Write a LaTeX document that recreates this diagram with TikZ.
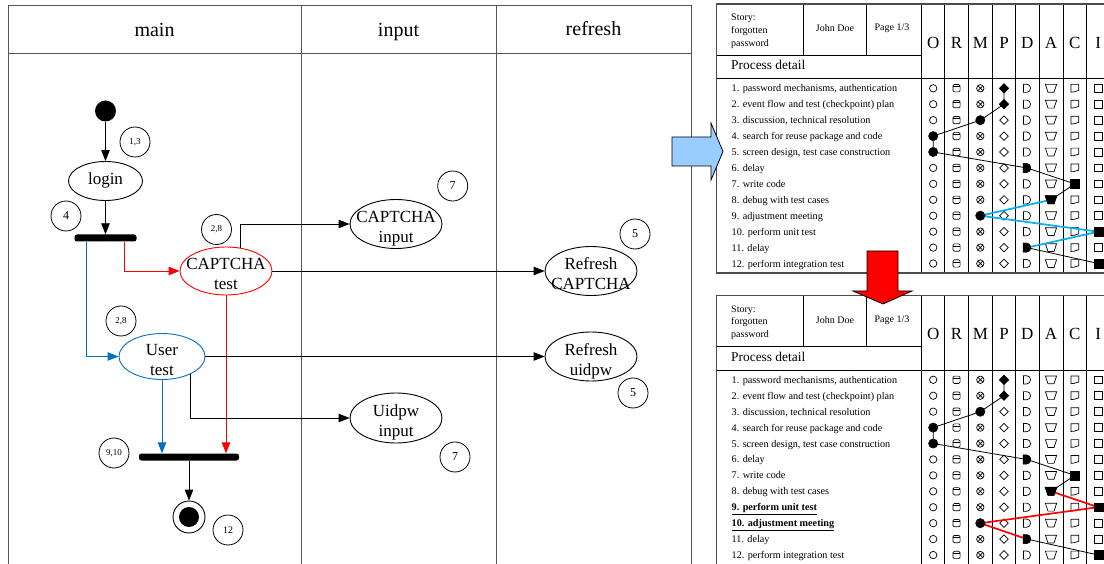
\documentclass[tikz,border=0pt]{standalone}
\usepackage{fontspec}
\setmainfont{Liberation Serif}
\usetikzlibrary{shapes.geometric,arrows.meta,calc}

\definecolor{umlblue}{HTML}{0070C0}
\definecolor{pathcyan}{HTML}{00B0F0}
\definecolor{lanegray}{HTML}{555555}
\definecolor{arrowblue}{HTML}{99CCFF}

% process chart symbols, drawn around the origin
\newcommand\symO{\draw (0,0) circle[radius=3.7];}
\newcommand\symR{\draw[rounded corners=1.3] (-3.6,3.6) -- (-3.6,-3.7) -- (3.6,-3.7) -- (3.6,3.6) -- cycle; \draw (-3.6,-1.5) -- (3.6,-1.5);}
\newcommand\symM{\draw (0,0) circle[radius=3.7]; \draw (-2.6,-2.6) -- (2.6,2.6) (-2.6,2.6) -- (2.6,-2.6);}
\newcommand\symP{\draw (0,-4.3) -- (4.3,0) -- (0,4.3) -- (-4.3,0) -- cycle;}
\newcommand\symD{\draw (-3.5,-4.1) -- (-0.2,-4.1) .. controls (4.7,-4.1) and (4.7,4.1) .. (-0.2,4.1) -- (-3.5,4.1) -- cycle;}
\newcommand\symA{\draw (-5.6,-3.9) -- (5.6,-3.9) -- (3,3.9) -- (-3,3.9) -- cycle;}
\newcommand\symC{\draw (-3.9,-3.9) -- (3.9,-3.9) -- (3.9,2.2) .. controls (2.2,1.8) and (1.6,3.9) .. (-3.9,3.9) -- cycle;}
\newcommand\symI{\draw (-3.9,-3.9) rectangle (3.9,3.9);}
% filled variants marking the chosen step
\newcommand\fillP{\filldraw (0,-4.7) -- (4.7,0) -- (0,4.7) -- (-4.7,0) -- cycle;}
\newcommand\fillO{\filldraw (0,0) circle[radius=4.7];}
\newcommand\fillD{\filldraw (-4,-4.6) -- (-0.2,-4.6) .. controls (5.1,-4.6) and (5.1,4.6) .. (-0.2,4.6) -- (-4,4.6) -- cycle;}
\newcommand\fillA{\filldraw (-6.1,-4.2) -- (6.1,-4.2) -- (3,4.2) -- (-3,4.2) -- cycle;}
\newcommand\fillS{\filldraw (-4.4,-4.4) rectangle (4.4,4.4);}
\newcommand\putsym[3]{\begin{scope}[shift={(#1,#2)}]#3\end{scope}}

% one process detail sheet; #1 vertical offset, #2 name prefix, #3/#4 texts of rows 9 and 10
\newcommand\proctable[4]{%
\begin{scope}[shift={(0,#1)}]
  \draw[tabline] (716.7,55) -- (921.7,55);
  \draw[tabline] (716.7,78.5) -- (1115,78.5);
  \draw[tabline] (803,4) -- (803,55) (866.3,4) -- (866.3,55);
  \foreach \x in {921.7,944.7,968.3,992.3,1015.7,1039,1063,1086.7}
    \draw[tabline] (\x,4) -- (\x,273);
  \draw[tabframe] (716.7,4) rectangle (1115,273);
  \node[smalltxt, anchor=north west, align=left, text height=32.4pt, text depth=2pt] (#2story) at (731,13.5) {Story:\\forgotten\\password};
  \node[smalltxt, anchor=base] (#2author) at (835,32) {John Doe};
  \node[smalltxt, anchor=base] (#2page) at (892,31) {Page 1/3};
  \node[anchor=base west, inner sep=0pt, font=\fontsize{13.4}{14}\selectfont] (#2title) at (731,70) {Process detail};
  \foreach \lt/\x in {O/933.2,R/956.5,M/980.3,P/1004,D/1027.3,A/1051,C/1074.8,I/1098.3}
    \node[anchor=base, inner sep=0pt, font=\fontsize{17}{17}\selectfont] (#2col\lt) at (\x,48.5) {\lt};
  \foreach \r/\t in {1/{1. password mechanisms, authentication},2/{2. event flow and test (checkpoint) plan},3/{3. discussion, technical resolution},4/{4. search for reuse package and code},5/{5. screen design, test case construction},6/{6. delay},7/{7. write code},8/{8. debug with test cases},11/{11. delay},12/{12. perform integration test}}
    \node[rowtxt] (#2row\r) at (731.5,{88.3+(\r-1)*15.93+3.5}) {\t};
  \node[rowtxt] (#2row9) at (731.5,219.2) {#3};
  \node[rowtxt] (#2row10) at (731.5,235.2) {#4};
  \foreach \r in {1,...,12}{
    \foreach \s/\x in {O/933.2,R/956.5,M/980.3,P/1004,D/1027,A/1051,C/1074.8,I/1098.3}{
      \begin{scope}[shift={(\x,{88.3+(\r-1)*15.93})}, symline]\csname sym\s\endcsname\end{scope}
    }
  }
\end{scope}}

\begin{document}
\begin{tikzpicture}[x=1pt,y=-1pt,
  lane/.style={draw=lanegray, line width=1pt},
  hdr/.style={anchor=base, inner sep=0pt, font=\fontsize{20}{20}\selectfont},
  ell/.style={ellipse, draw, line width=0.9pt, inner sep=-15pt, align=center,
    font=\fontsize{17}{20}\selectfont, text height=37pt, text depth=0pt},
  tagc/.style={circle, draw, line width=0.8pt, minimum size=30pt, inner sep=0pt, font=\fontsize{9}{9}\selectfont},
  tagbig/.style={tagc, font=\fontsize{12}{12}\selectfont},
  forkbar/.style={rectangle, fill=black, rounded corners=2.5pt, minimum height=7pt, inner sep=0pt},
  startdot/.style={circle, fill=black, minimum size=21pt, inner sep=0pt},
  arr/.style={-{Triangle[length=11pt,width=8.5pt]}, line width=0.9pt},
  tabline/.style={draw=black, line width=0.8pt},
  tabframe/.style={draw=black!70, line width=1.3pt},
  smalltxt/.style={inner sep=0pt, font=\fontsize{10}{12.7}\selectfont},
  rowtxt/.style={anchor=base west, inner sep=0pt, font=\fontsize{10.2}{12}\selectfont},
  symline/.style={line width=0.7pt},
  tpath/.style={line width=0.8pt},
  hipath/.style={line width=1.7pt}]
\useasboundingbox (0,0) rectangle (1104,564);
\clip (0,0) rectangle (1104,564);

% ---------- activity diagram with swimlanes ----------
\draw[lane] (8,6) rectangle (691,620);
\draw[lane] (8,54) -- (691,54);
\draw[lane] (301,6) -- (301,620);
\draw[lane] (496,6) -- (496,620);
\node[hdr] (hmain) at (154.5,37) {main};
\node[hdr] (hinput) at (398.5,37) {input};
\node[hdr] (hrefresh) at (593.5,36) {refresh};

\node[startdot] (start) at (105.5,111) {};
\node[ell, minimum width=74pt, minimum height=39pt, text height=12pt, text depth=4pt] (login) at (105.5,181) {login};
\node[forkbar, minimum width=62pt] (fork) at (105.5,238) {};
\node[ell, draw=red, minimum width=92pt, minimum height=48pt] (captest) at (226,271) {CAPTCHA\\test};
\node[ell, draw=umlblue, minimum width=86pt, minimum height=46pt] (usertest) at (162,356.5) {User\\test};
\node[forkbar, minimum width=100pt] (join) at (189,457) {};
\node[circle, draw, line width=0.9pt, minimum size=32pt, inner sep=0pt] (finish) at (189,517) {};
\node[circle, fill=black, minimum size=20pt, inner sep=0pt] (finishdot) at (finish) {};
\node[ell, minimum width=92pt, minimum height=49pt] (capin) at (396,224) {CAPTCHA\\input};
\node[ell, minimum width=92pt, minimum height=50pt] (uidin) at (396,418) {Uidpw\\input};
\node[ell, minimum width=92pt, minimum height=49pt] (refcap) at (591,271) {Refresh\\CAPTCHA};
\node[ell, minimum width=92pt, minimum height=49pt] (refuid) at (591,356.5) {Refresh\\uidpw};

\node[tagc] (t13) at (135,142) {1,3};
\node[tagbig] (t4) at (66,216) {4};
\node[tagc] (t28a) at (216.5,229.5) {2,8};
\node[tagc] (t28b) at (121,321) {2,8};
\node[tagc] (t910) at (114,453) {9,10};
\node[tagc, font=\fontsize{10}{10}\selectfont] (t12) at (228,530) {12};
\node[tagbig] (t7a) at (452.7,186) {7};
\node[tagbig] (t5a) at (635,234) {5};
\node[tagbig] (t5b) at (633,393) {5};
\node[tagbig] (t7b) at (455,457) {7};

\coordinate (forkL) at ($(fork.south west)+(12,0)$);
\coordinate (forkR) at ($(fork.south east)+(-12,0)$);
\coordinate (capTop) at (240,248.2);
\coordinate (userLow) at (190,373.8);

\draw[arr] (start) -- (login);
\draw[arr] (login) -- (fork);
\draw[arr, umlblue] (forkL) |- (usertest);
\draw[arr, red] (forkR) |- (captest);
\draw[arr] (capTop) |- (capin);
\draw[arr] (captest) -- (refcap);
\draw[arr, red] (captest) -- (captest |- join.north);
\draw[arr, umlblue] (usertest) -- (usertest |- join.north);
\draw[arr] (userLow) |- (uidin);
\draw[arr] (usertest) -- (refuid);
\draw[arr] (join) -- (finish);

% ---------- process detail sheets ----------
\proctable{0}{a}{9. adjustment meeting}{10. perform unit test}
\begin{scope}
  \coordinate (am1) at (1004,88.3);
  \coordinate (am2) at (1004,104.2);
  \coordinate (am3) at (980.3,120.2);
  \coordinate (am4) at (933.2,136.1);
  \coordinate (am5) at (933.2,152);
  \coordinate (am6) at (1027,168);
  \coordinate (am7) at (1074.8,183.9);
  \coordinate (am8) at (1051,199.8);
  \coordinate (am9) at (980.3,215.7);
  \coordinate (am10) at (1098.3,231.7);
  \coordinate (am11) at (1027,247.6);
  \coordinate (am12) at (1098.3,263.5);
  \draw[tpath] (am1) -- (am2) -- (am3) -- (am4) -- (am5) -- (am6) -- (am7) -- (am8);
  \draw[hipath, pathcyan] (am8) -- (am9) -- (am10) -- (am11);
  \draw[tpath] (am11) -- (am12);
  \putsym{1004}{88.3}{\fillP}
  \putsym{1004}{104.2}{\fillP}
  \putsym{980.3}{120.2}{\fillO}
  \putsym{933.2}{136.1}{\fillO}
  \putsym{933.2}{152}{\fillO}
  \putsym{1027}{168}{\fillD}
  \putsym{1074.8}{183.9}{\fillS}
  \putsym{1051}{199.8}{\fillA}
  \putsym{980.3}{215.7}{\fillO}
  \putsym{1098.3}{231.7}{\fillS}
  \putsym{1027}{247.6}{\fillD}
  \putsym{1098.3}{263.5}{\fillS}
\end{scope}

\proctable{291.5}{b}{\textbf{\underline{9. perform unit test}}}{\textbf{\underline{10. adjustment meeting}}}
\begin{scope}[shift={(0,291.5)}]
  \coordinate (bm1) at (1004,88.3);
  \coordinate (bm2) at (1004,104.2);
  \coordinate (bm3) at (980.3,120.2);
  \coordinate (bm4) at (933.2,136.1);
  \coordinate (bm5) at (933.2,152);
  \coordinate (bm6) at (1027,168);
  \coordinate (bm7) at (1074.8,183.9);
  \coordinate (bm8) at (1051,199.8);
  \coordinate (bm9) at (1098.3,215.7);
  \coordinate (bm10) at (980.3,231.7);
  \coordinate (bm11) at (1027,247.6);
  \coordinate (bm12) at (1098.3,263.5);
  \draw[tpath] (bm1) -- (bm2) -- (bm3) -- (bm4) -- (bm5) -- (bm6) -- (bm7) -- (bm8);
  \draw[hipath, red] (bm8) -- (bm9) -- (bm10) -- (bm11);
  \draw[tpath] (bm11) -- (bm12);
  \putsym{1004}{88.3}{\fillP}
  \putsym{1004}{104.2}{\fillP}
  \putsym{980.3}{120.2}{\fillO}
  \putsym{933.2}{136.1}{\fillO}
  \putsym{933.2}{152}{\fillO}
  \putsym{1027}{168}{\fillD}
  \putsym{1074.8}{183.9}{\fillS}
  \putsym{1051}{199.8}{\fillA}
  \putsym{1098.3}{215.7}{\fillS}
  \putsym{980.3}{231.7}{\fillO}
  \putsym{1027}{247.6}{\fillD}
  \putsym{1098.3}{263.5}{\fillS}
\end{scope}

% ---------- block arrows between the panels ----------
\filldraw[fill=arrowblue, draw=black, line width=0.8pt]
  (672,137) -- (711,137) -- (711,123) -- (723,151.5) -- (711,180) -- (711,166) -- (672,166) -- cycle;
\filldraw[fill=red, draw=black, line width=0.8pt]
  (867,251) -- (898,251) -- (898,291) -- (912,291) -- (883,304) -- (853,291) -- (867,291) -- cycle;
\end{tikzpicture}
\end{document}
